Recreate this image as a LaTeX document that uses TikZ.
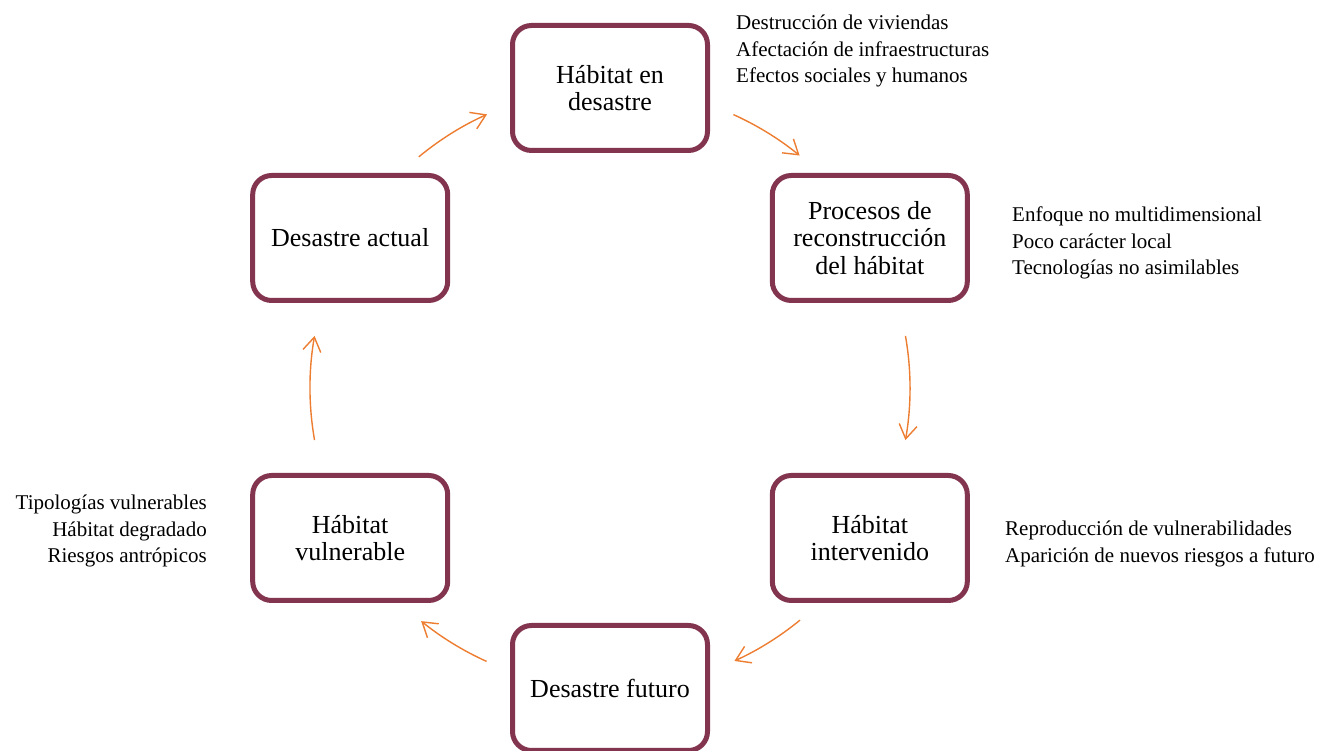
\documentclass[tikz,border=0pt]{standalone}
\usepackage{fontspec}
\setmainfont{Liberation Serif}
\usetikzlibrary{arrows.meta}
\definecolor{boxline}{HTML}{833550}
\definecolor{cyclearrow}{HTML}{ED7D31}
\tikzset{
  stage/.style={draw=boxline, line width=5pt, rounded corners=19pt, fill=white,
    minimum width=195pt, minimum height=125pt, align=center, inner sep=0pt,
    font=\fontsize{26}{27.5}\selectfont},
  cyc/.style={draw=cyclearrow, line width=1.4pt,
    -{Straight Barb[length=14pt, width=18pt, line width=1.4pt]}},
  notes/.style={inner sep=0pt, font=\fontsize{21}{26.5}\selectfont}
}
\begin{document}
\begin{tikzpicture}[x=1pt, y=1pt]
  \useasboundingbox (0,0) rectangle (1322,751);
  % centre of the cycle
  \coordinate (c) at (610,363);

  % stages of the cycle
  \node[stage] (desastre)  at ([shift={(90:300)}]c)   {Hábitat en\\desastre};
  \node[stage] (procesos)  at ([shift={(30:300)}]c)   {Procesos de\\reconstrucción\\del hábitat};
  \node[stage] (interv)    at ([shift={(-30:300)}]c)  {Hábitat\\intervenido};
  \node[stage] (futuro)    at ([shift={(-90:300)}]c)  {Desastre futuro};
  \node[stage] (vulnera)   at ([shift={(-150:300)}]c) {Hábitat\\vulnerable};
  \node[stage] (actual)    at ([shift={(150:300)}]c)  {Desastre actual};

  % arrows along the circle between stages
  \draw[cyc] ([shift={(65.7:300)}]c) arc[start angle=65.7, end angle=50.8, radius=300];
  \draw[cyc] ([shift={(10:300)}]c) arc[start angle=10, end angle=-10, radius=300];
  \draw[cyc] ([shift={(-50.7:300)}]c) arc[start angle=-50.7, end angle=-65.5, radius=300];
  \draw[cyc] ([shift={(-114.3:300)}]c) arc[start angle=-114.3, end angle=-129, radius=300];
  \draw[cyc] ([shift={(-170:300)}]c) arc[start angle=-170, end angle=-190, radius=300];
  \draw[cyc] ([shift={(129.6:300)}]c) arc[start angle=129.6, end angle=114.2, radius=300];

  % side notes
  \node[notes, anchor=north west, align=left] (n1) at (736,736)
    {Destrucción de viviendas\\Afectación de infraestructuras\\Efectos sociales y humanos};
  \node[notes, anchor=north west, align=left] (n2) at (1012,544)
    {Enfoque no multidimensional\\Poco carácter local\\Tecnologías no asimilables};
  \node[notes, anchor=north west, align=left] (n3) at (1005,230)
    {Reproducción de vulnerabilidades\\Aparición de nuevos riesgos a futuro};
  \node[notes, anchor=north east, align=right] (n4) at (207,256)
    {Tipologías vulnerables\\Hábitat degradado\\Riesgos antrópicos};
\end{tikzpicture}
\end{document}
